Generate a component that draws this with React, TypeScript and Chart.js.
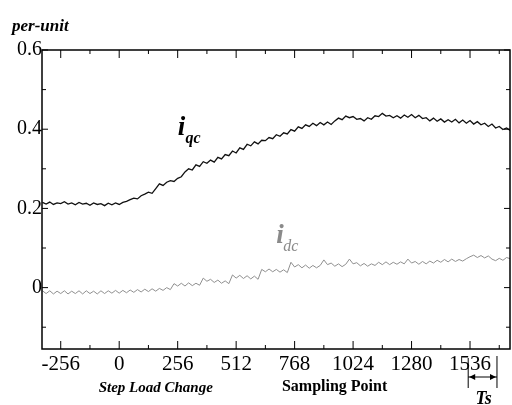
import React, { useEffect, useRef } from 'react';
import { Chart, registerables } from 'chart.js';

Chart.register(...registerables);

// Sampling grid: every 16th sampling point starting at -336
const SAMPLE_START = -336;
const SAMPLE_STEP = 16;

// i_qc (per-unit)
const IQC = [
  0.215, 0.211, 0.216, 0.210, 0.214, 0.212, 0.217, 0.211, 0.214, 0.209,
  0.215, 0.211, 0.213, 0.208, 0.214, 0.210, 0.212, 0.207, 0.213, 0.209,
  0.214, 0.210, 0.215, 0.218, 0.222, 0.226, 0.224, 0.232, 0.236, 0.241,
  0.238, 0.250, 0.262, 0.258, 0.266, 0.270, 0.268, 0.276, 0.280, 0.292,
  0.300, 0.297, 0.310, 0.306, 0.318, 0.314, 0.322, 0.317, 0.329, 0.325,
  0.336, 0.333, 0.345, 0.340, 0.353, 0.349, 0.362, 0.358, 0.368, 0.363,
  0.372, 0.371, 0.379, 0.376, 0.386, 0.382, 0.391, 0.388, 0.399, 0.395,
  0.406, 0.402, 0.411, 0.407, 0.415, 0.409, 0.417, 0.411, 0.418, 0.412,
  0.421, 0.428, 0.424, 0.433, 0.429, 0.432, 0.425, 0.427, 0.421, 0.429,
  0.425, 0.434, 0.432, 0.440, 0.433, 0.435, 0.429, 0.434, 0.428, 0.436,
  0.430, 0.437, 0.429, 0.435, 0.427, 0.429, 0.421, 0.428, 0.420, 0.426,
  0.418, 0.424, 0.418, 0.425, 0.416, 0.423, 0.415, 0.422, 0.413, 0.419,
  0.411, 0.415, 0.407, 0.413, 0.403, 0.407, 0.399, 0.403, 0.397,
];

// i_dc (per-unit)
const IDC = [
  -0.008, -0.015, -0.008, -0.016, -0.009, -0.015, -0.008, -0.016, -0.009, -0.015,
  -0.008, -0.016, -0.008, -0.015, -0.009, -0.016, -0.008, -0.015, -0.008, -0.014,
  -0.007, -0.014, -0.007, -0.013, -0.006, -0.012, -0.005, -0.011, -0.004, -0.010,
  -0.003, -0.009, -0.002, -0.007, 0.000, -0.005, 0.010, 0.004, 0.011, 0.004,
  0.012, 0.005, 0.011, 0.006, 0.024, 0.016, 0.021, 0.013, 0.019, 0.011,
  0.017, 0.010, 0.032, 0.024, 0.031, 0.023, 0.030, 0.022, 0.029, 0.021,
  0.046, 0.040, 0.047, 0.040, 0.046, 0.039, 0.045, 0.038, 0.064, 0.052,
  0.058, 0.050, 0.057, 0.049, 0.056, 0.050, 0.056, 0.070, 0.058, 0.062,
  0.054, 0.060, 0.053, 0.059, 0.072, 0.060, 0.063, 0.055, 0.061, 0.054,
  0.060, 0.056, 0.064, 0.058, 0.065, 0.058, 0.064, 0.059, 0.065, 0.060,
  0.072, 0.062, 0.066, 0.059, 0.066, 0.060, 0.067, 0.062, 0.069, 0.064,
  0.071, 0.065, 0.072, 0.066, 0.071, 0.067, 0.073, 0.078, 0.082, 0.076,
  0.081, 0.075, 0.080, 0.072, 0.068, 0.074, 0.069, 0.076, 0.073,
];

const X_MAJOR = [-256, 0, 256, 512, 768, 1024, 1280, 1536];
const X_MINOR = [-128, 128, 384, 640, 896, 1152, 1408, 1664];
const Y_MAJOR = [0, 0.2, 0.4, 0.6];
const Y_MINOR = [-0.1, 0.1, 0.3, 0.5];
const Y_LABELS = ['0', '0.2', '0.4', '0.6'];

const X_MIN = -338;
const X_MAX = 1711;
const Y_MIN = -0.155;
const Y_MAX = 0.6;

const TS_START = 1528;
const TS_END = 1654;

const SERIF = '"Liberation Serif", "DejaVu Serif", serif';

const toPoints = (arr: number[]) =>
  arr.map((v, i) => ({ x: SAMPLE_START + i * SAMPLE_STEP, y: v }));

const framePlugin = {
  id: 'framePlugin',
  afterDraw(chart: any) {
    const { ctx, chartArea, scales } = chart;
    const { left, right, top, bottom } = chartArea;
    const xs = scales.x;
    const ys = scales.y;
    const line = (x1: number, y1: number, x2: number, y2: number) => {
      ctx.beginPath();
      ctx.moveTo(x1, y1);
      ctx.lineTo(x2, y2);
      ctx.stroke();
    };
    ctx.save();
    ctx.strokeStyle = '#000';
    ctx.lineWidth = 1.5;
    ctx.strokeRect(left, top, right - left, bottom - top);
    ctx.lineWidth = 1;
    X_MAJOR.forEach((v) => {
      const p = xs.getPixelForValue(v);
      line(p, bottom, p, bottom - 8);
      line(p, top, p, top + 8);
    });
    X_MINOR.forEach((v) => {
      const p = xs.getPixelForValue(v);
      if (p < left || p > right) return;
      line(p, bottom, p, bottom - 4);
      line(p, top, p, top + 4);
    });
    Y_MAJOR.forEach((v) => {
      const p = ys.getPixelForValue(v);
      line(left, p, left + 6, p);
      line(right, p, right - 6, p);
    });
    Y_MINOR.forEach((v) => {
      const p = ys.getPixelForValue(v);
      line(left, p, left + 4, p);
      line(right, p, right - 4, p);
    });

    // series labels
    ctx.textAlign = 'left';
    ctx.textBaseline = 'alphabetic';
    ctx.fillStyle = '#000';
    ctx.font = `italic bold 27px ${SERIF}`;
    ctx.fillText('i', xs.getPixelForValue(256), ys.getPixelForValue(0.385));
    ctx.font = `italic bold 16px ${SERIF}`;
    ctx.fillText('qc', xs.getPixelForValue(290), ys.getPixelForValue(0.365));

    ctx.fillStyle = '#8a8a8a';
    ctx.font = `italic bold 27px ${SERIF}`;
    ctx.fillText('i', xs.getPixelForValue(688), ys.getPixelForValue(0.113));
    ctx.font = `italic 16px ${SERIF}`;
    ctx.fillText('dc', xs.getPixelForValue(718), ys.getPixelForValue(0.093));

    // axis titles
    ctx.fillStyle = '#000';
    ctx.font = `italic bold 17px ${SERIF}`;
    ctx.fillText('per-unit', 12, top - 19);

    ctx.textAlign = 'center';
    ctx.font = `italic bold 15px ${SERIF}`;
    ctx.fillText('Step Load Change', xs.getPixelForValue(160), bottom + 43);
    ctx.font = `bold 16px ${SERIF}`;
    ctx.fillText('Sampling Point', xs.getPixelForValue(943), bottom + 42);

    // Ts marker
    const a = xs.getPixelForValue(TS_START);
    const b = xs.getPixelForValue(TS_END);
    const yb = bottom + 28;
    ctx.lineWidth = 1;
    line(a, bottom + 9, a, bottom + 39);
    line(b, bottom + 7, b, bottom + 39);
    line(a, yb, b, yb);
    ctx.beginPath();
    ctx.moveTo(a + 1, yb);
    ctx.lineTo(a + 7, yb - 3);
    ctx.lineTo(a + 7, yb + 3);
    ctx.closePath();
    ctx.fill();
    ctx.beginPath();
    ctx.moveTo(b - 1, yb);
    ctx.lineTo(b - 7, yb - 3);
    ctx.lineTo(b - 7, yb + 3);
    ctx.closePath();
    ctx.fill();
    ctx.font = `italic bold 18px ${SERIF}`;
    ctx.fillText('Ts', (a + b) / 2 + 1, bottom + 55);
    ctx.restore();
  },
};

export default function App() {
  const ref = useRef<HTMLCanvasElement | null>(null);
  useEffect(() => {
    if (!ref.current) return;
    const chart = new Chart(ref.current, {
      type: 'line',
      data: {
        datasets: [
          {
            label: 'iqc',
            data: toPoints(IQC),
            borderColor: '#111',
            borderWidth: 1.3,
            pointRadius: 0,
            tension: 0,
          },
          {
            label: 'idc',
            data: toPoints(IDC),
            borderColor: '#8f8f8f',
            borderWidth: 1,
            pointRadius: 0,
            tension: 0,
          },
        ],
      },
      options: {
        animation: false,
        responsive: true,
        maintainAspectRatio: false,
        layout: { padding: { top: 50, right: 2, left: 0, bottom: 0 } },
        plugins: { legend: { display: false }, tooltip: { enabled: false } },
        scales: {
          x: {
            type: 'linear',
            min: X_MIN,
            max: X_MAX,
            afterBuildTicks: (s: any) => {
              s.ticks = X_MAJOR.map((v) => ({ value: v }));
            },
            afterFit: (s: any) => {
              s.height = 56;
            },
            grid: { display: false, drawTicks: false },
            border: { display: false },
            ticks: {
              autoSkip: false,
              maxRotation: 0,
              padding: 3,
              color: '#000',
              font: { family: SERIF, size: 21 },
              callback: (v: any) => String(v),
            },
          },
          y: {
            type: 'linear',
            min: Y_MIN,
            max: Y_MAX,
            afterBuildTicks: (s: any) => {
              s.ticks = Y_MAJOR.map((v) => ({ value: v }));
            },
            afterFit: (s: any) => {
              s.width = 42;
            },
            grid: { display: false, drawTicks: false },
            border: { display: false },
            ticks: {
              padding: 0,
              color: '#000',
              font: { family: SERIF, size: 20 },
              callback: (v: any) => {
                const i = Y_MAJOR.findIndex((m) => Math.abs(m - v) < 1e-9);
                return i >= 0 ? Y_LABELS[i] : '';
              },
            },
          },
        },
      },
      plugins: [framePlugin],
    });
    return () => chart.destroy();
  }, []);
  return (
    <div style={{ position: 'fixed', left: 0, top: 0, width: 512, height: 405, background: '#fff' }}>
      <canvas ref={ref} />
    </div>
  );
}
